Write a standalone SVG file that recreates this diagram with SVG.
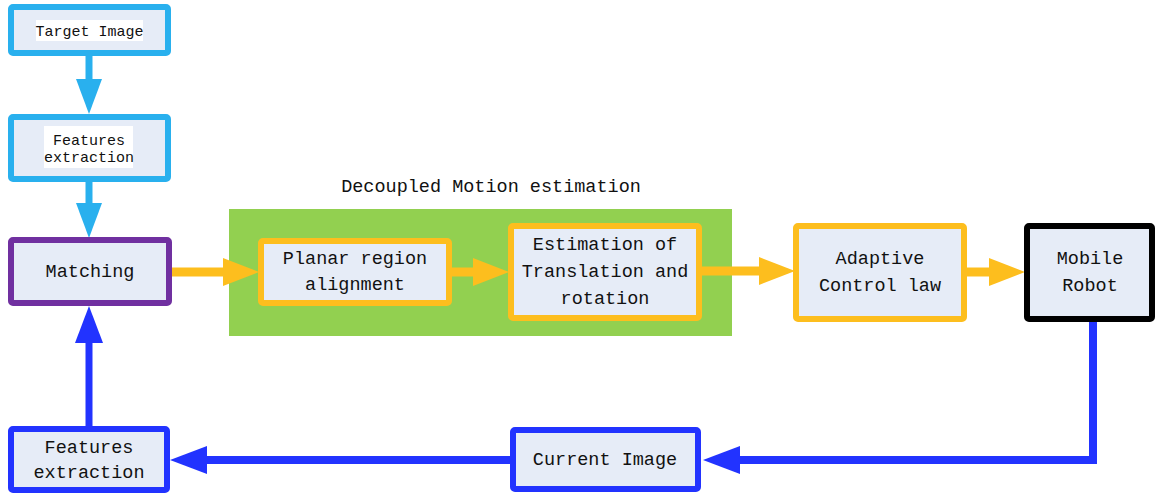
<svg xmlns="http://www.w3.org/2000/svg" width="1157" height="497" viewBox="0 0 1157 497">
<style>
.box{fill:#E6ECF7;stroke-width:6}
.lb{stroke:#29B0EE}
.pu{stroke:#7030A0}
.or{stroke:#FDBE1E}
.bk{stroke:#000}
.bl{stroke:#2233FF}
.t{font-family:"Liberation Mono","DejaVu Sans Mono",monospace;font-size:18.5px;fill:#111;text-anchor:middle}
.s{font-size:15px}
.c{fill:none}
</style>
<defs>
<marker id="hLb" markerUnits="userSpaceOnUse" markerWidth="36" markerHeight="26" refX="0" refY="13" orient="auto"><path d="M0,0 L35,13 L0,26 z" fill="#29B0EE"/></marker>
<marker id="hOr" markerUnits="userSpaceOnUse" markerWidth="37" markerHeight="28" refX="0" refY="14" orient="auto"><path d="M0,0 L36,14 L0,28 z" fill="#FDBE1E"/></marker>
<marker id="hBl" markerUnits="userSpaceOnUse" markerWidth="38" markerHeight="28" refX="0" refY="14" orient="auto"><path d="M0,0 L37,14 L0,28 z" fill="#2233FF"/></marker>
</defs>
<rect width="1157" height="497" fill="#fff"/>
<rect id="motion-group" x="229" y="209" width="503" height="127" fill="#92D050"/>
<text class="t" x="491" y="192">Decoupled Motion estimation</text>
<g id="connectors" class="c">
<line x1="89" y1="56" x2="89" y2="79" class="lb" stroke-width="7" marker-end="url(#hLb)"/>
<line x1="89" y1="182" x2="89" y2="203" class="lb" stroke-width="7" marker-end="url(#hLb)"/>
<line x1="166" y1="272" x2="223" y2="272" class="or" stroke-width="9" marker-end="url(#hOr)"/>
<line x1="450" y1="272" x2="473" y2="272" class="or" stroke-width="9" marker-end="url(#hOr)"/>
<line x1="700" y1="271" x2="759" y2="271" class="or" stroke-width="9" marker-end="url(#hOr)"/>
<line x1="965" y1="272" x2="989" y2="272" class="or" stroke-width="9" marker-end="url(#hOr)"/>
<path d="M1093,318 V460 H740" class="bl" stroke-width="8" marker-end="url(#hBl)"/>
<line x1="512" y1="460" x2="207" y2="460" class="bl" stroke-width="8" marker-end="url(#hBl)"/>
<line x1="89" y1="428" x2="89" y2="343" class="bl" stroke-width="7" marker-end="url(#hBl)"/>
</g>
<g id="target-image">
<rect class="box lb" x="11" y="7" width="157" height="46" rx="2"/>
<rect x="36" y="20" width="107" height="21" fill="#fff"/>
<text class="t s" x="89.5" y="36">Target Image</text>
</g>
<g id="features-extraction-1">
<rect class="box lb" x="11" y="117" width="157" height="62" rx="2"/>
<rect x="44" y="126" width="89" height="42" fill="#fff"/>
<text class="t s" x="89" y="145">Features</text>
<text class="t s" x="89" y="162">extraction</text>
</g>
<g id="matching">
<rect class="box pu" x="11" y="240" width="158" height="63" rx="2"/>
<text class="t" x="90" y="277">Matching</text>
</g>
<g id="planar-region">
<rect class="box or" x="261" y="241" width="188" height="62" rx="2"/>
<text class="t" x="355" y="264">Planar region</text>
<text class="t" x="355" y="290">alignment</text>
</g>
<g id="estimation">
<rect class="box or" x="511" y="226" width="188" height="92" rx="2"/>
<text class="t" x="605" y="250">Estimation of</text>
<text class="t" x="605" y="277">Translation and</text>
<text class="t" x="605" y="304">rotation</text>
</g>
<g id="adaptive-control">
<rect class="box or" x="796" y="226" width="168" height="93" rx="2"/>
<text class="t" x="880" y="264">Adaptive</text>
<text class="t" x="880" y="291">Control law</text>
</g>
<g id="mobile-robot">
<rect class="box bk" x="1027" y="226" width="125" height="93" rx="2"/>
<text class="t" x="1090" y="264">Mobile</text>
<text class="t" x="1090" y="291">Robot</text>
</g>
<g id="current-image">
<rect class="box bl" x="513" y="430" width="185" height="59" rx="2"/>
<text class="t" x="605" y="465">Current Image</text>
</g>
<g id="features-extraction-2">
<rect class="box bl" x="11" y="429" width="156" height="61" rx="2"/>
<text class="t" x="89" y="453">Features</text>
<text class="t" x="89" y="478">extraction</text>
</g>
</svg>
